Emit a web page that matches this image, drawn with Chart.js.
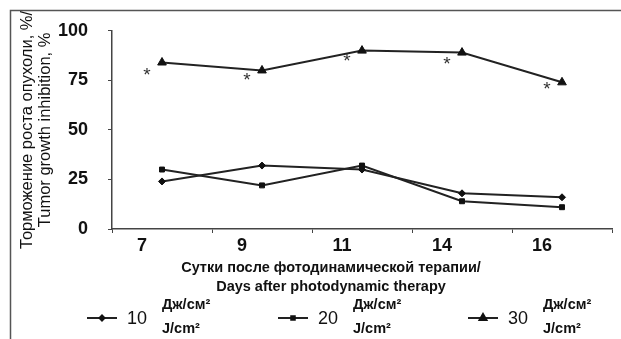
<!DOCTYPE html>
<html>
<head>
<meta charset="utf-8">
<script src="https://cdn.jsdelivr.net/npm/chart.js@4"></script>
<style>
  html, body { margin: 0; padding: 0; background: #fff; overflow: hidden; }
  #wrap { width: 621px; height: 339px; }
</style>
</head>
<body>
<div id="wrap"><canvas id="c" width="621" height="339"></canvas></div>
<script>
// data
const days = ['7', '9', '11', '14', '16'];
const dose10 = [24, 32, 30, 18, 16];
const dose20 = [30, 22, 32, 14, 11];
const dose30 = [84, 80, 90, 89, 74];
const asteriskVals = [80, 77.5, 87, 85.5, 73];
const doseNames = ['10', '20', '30'];
const unitRu = 'Дж/см²';
const unitEn = 'J/cm²';
const yTitle = ['Торможение роста опухоли, %/', 'Tumor growth inhibition, %'];
const xTitle = ['Сутки после фотодинамической терапии/', 'Days after photodynamic therapy'];

const INK = '#111';
const LINE = '#222';

const frame = {
  id: 'frame',
  beforeDraw(chart) {
    const ctx = chart.ctx;
    ctx.save();
    ctx.fillStyle = '#fff';
    ctx.fillRect(0, 0, chart.width, chart.height);
    ctx.strokeStyle = '#555';
    ctx.lineWidth = 1.5;
    ctx.strokeRect(10.5, 10.5, chart.width + 20, chart.height + 20);
    ctx.restore();
  }
};

// significance marks next to the 30 J/cm2 curve
const stars = {
  id: 'stars',
  afterDatasetsDraw(chart) {
    const {ctx, scales: {x, y}} = chart;
    ctx.save();
    ctx.font = '19px "Liberation Sans"';
    ctx.fillStyle = '#333';
    ctx.textAlign = 'center';
    ctx.textBaseline = 'middle';
    asteriskVals.forEach((v, i) => {
      ctx.fillText('*', x.getPixelForValue(i) - 15, y.getPixelForValue(v) + 5);
    });
    ctx.restore();
  }
};

// x title drawn by hand, it sits left of the axis centre in the original
const xTitlePlugin = {
  id: 'xTitle',
  afterDraw(chart) {
    const ctx = chart.ctx;
    const cx = 331;
    ctx.save();
    ctx.font = 'bold 14.5px "Liberation Sans"';
    ctx.fillStyle = INK;
    ctx.textAlign = 'center';
    ctx.textBaseline = 'middle';
    ctx.fillText(xTitle[0], cx, 268);
    ctx.fillText(xTitle[1], cx, 287);
    ctx.restore();
  }
};

const doseLegend = {
  id: 'doseLegend',
  afterDraw(chart) {
    const ctx = chart.ctx;
    const starts = [87, 278, 468];
    const yMid = 318;
    ctx.save();
    chart.data.datasets.forEach((ds, i) => {
      const x0 = starts[i];
      ctx.strokeStyle = ds.borderColor;
      ctx.lineWidth = 2;
      ctx.beginPath();
      ctx.moveTo(x0, yMid);
      ctx.lineTo(x0 + 30, yMid);
      ctx.stroke();
      ctx.fillStyle = ds.pointBackgroundColor;
      ctx.strokeStyle = ds.pointBorderColor;
      Chart.helpers.drawPoint(ctx, {pointStyle: ds.pointStyle, radius: ds.pointRadius - 1, borderWidth: 1, rotation: 0}, x0 + 15, yMid);

      ctx.fillStyle = INK;
      ctx.textAlign = 'left';
      ctx.textBaseline = 'middle';
      ctx.font = '18px "Liberation Sans"';
      ctx.fillText(doseNames[i], x0 + 40, yMid + 1);
      ctx.font = 'bold 14.5px "Liberation Sans"';
      ctx.fillText(unitRu, x0 + 75, 305);
      ctx.fillText(unitEn, x0 + 75, 329);
    });
    ctx.restore();
  }
};

const series = (data, style, r) => ({
  data,
  borderColor: LINE,
  borderWidth: 2,
  pointStyle: style,
  pointRadius: r,
  pointBackgroundColor: INK,
  pointBorderColor: INK,
  pointBorderWidth: 1,
  tension: 0
});

const tickFont = { family: 'Liberation Sans', size: 18, weight: 'bold' };

new Chart(document.getElementById('c'), {
  type: 'line',
  data: {
    labels: days,
    datasets: [
      series(dose10, 'rectRot', 3.5),
      series(dose20, 'rect', 3.5),
      series(dose30, 'triangle', 5)
    ]
  },
  options: {
    responsive: false,
    animation: false,
    devicePixelRatio: 1,
    layout: { padding: { left: 10, right: 9, top: 25, bottom: 80 } },
    plugins: { legend: { display: false }, tooltip: { enabled: false } },
    scales: {
      x: {
        offset: true,
        grid: { offset: true, drawOnChartArea: false, tickLength: 4, color: '#444', tickColor: '#444' },
        border: { color: '#444', width: 1.5 },
        ticks: { color: INK, font: tickFont, padding: 2, labelOffset: -20 },
        afterFit(s) { s.height = 30; }
      },
      y: {
        min: 0,
        max: 100,
        ticks: { stepSize: 25, color: INK, font: tickFont, padding: 20 },
        grid: { drawOnChartArea: false, tickLength: 4, color: '#444', tickColor: '#444' },
        border: { color: '#444', width: 1.5 },
        title: {
          display: true,
          text: yTitle,
          color: INK,
          font: { family: 'Liberation Sans', size: 16.5, lineHeight: 1.1 },
          padding: { top: 8, bottom: 0 }
        },
        afterFit(s) { s.width = 102; }
      }
    }
  },
  plugins: [frame, stars, xTitlePlugin, doseLegend]
});
</script>
</body>
</html>
